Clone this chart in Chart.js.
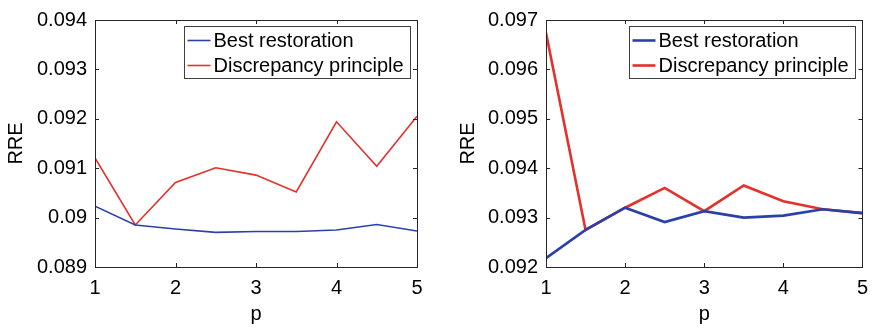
<!DOCTYPE html>
<html>
<head>
<meta charset="utf-8">
<script src="https://cdn.jsdelivr.net/npm/chart.js@4"></script>
<style>
  body { margin: 0; background: #fff; }
  .wrap { position: absolute; top: 0; height: 330px; }
</style>
</head>
<body>
<div class="wrap" style="left:0;width:438px"><canvas id="left" width="438" height="330"></canvas></div>
<div class="wrap" style="left:438px;width:439px"><canvas id="right" width="439" height="330"></canvas></div>
<script>
// x values (p)
const pValues = [1, 1.5, 2, 2.5, 3, 3.5, 4, 4.5, 5];
const seriesNames = ['Best restoration', 'Discrepancy principle'];

// left panel
const leftBest = [0.09023, 0.08985, 0.08977, 0.08970, 0.08972, 0.08972, 0.08975, 0.08986, 0.08973];
const leftDiscrepancy = [0.09121, 0.08985, 0.09071, 0.09101, 0.09086, 0.09052, 0.09194, 0.09104, 0.09205];
const leftTicks = [0.089, 0.090, 0.091, 0.092, 0.093, 0.094];

// right panel
const rightBest = [0.09218, 0.09275, 0.09320, 0.09291, 0.09313, 0.09300, 0.09304, 0.09317, 0.09309];
const rightDiscrepancy = [0.09674, 0.09275, 0.09320, 0.09360, 0.09313, 0.09365, 0.09333, 0.09317, 0.09309];
const rightTicks = [0.092, 0.093, 0.094, 0.095, 0.096, 0.097];

const BLUE = '#2c40ab';
const RED = '#e4312b';
const FONT = 'Liberation Sans, Arial, Helvetica, sans-serif';
const FS = 20;

// MATLAB-like box with inward ticks and an inset legend
const matlabBox = {
    id: 'matlabBox',
    afterDatasetsDraw(chart) {
        const ctx = chart.ctx;
        const a = chart.chartArea;
        const xs = chart.scales.x, ys = chart.scales.y;
        ctx.save();
        ctx.strokeStyle = '#262626';
        ctx.lineWidth = 1;
        ctx.strokeRect(Math.round(a.left) + 0.5, Math.round(a.top) + 0.5,
            Math.round(a.right - a.left), Math.round(a.bottom - a.top));
        const tl = 4;
        ctx.beginPath();
        xs.ticks.forEach(t => {
            const px = Math.round(xs.getPixelForValue(t.value)) + 0.5;
            ctx.moveTo(px, a.bottom); ctx.lineTo(px, a.bottom - tl);
            ctx.moveTo(px, a.top); ctx.lineTo(px, a.top + tl);
        });
        ys.ticks.forEach(t => {
            const py = Math.round(ys.getPixelForValue(t.value)) + 0.5;
            ctx.moveTo(a.left, py); ctx.lineTo(a.left + tl, py);
            ctx.moveTo(a.right, py); ctx.lineTo(a.right - tl, py);
        });
        ctx.stroke();

        // legend
        ctx.font = FS + 'px ' + FONT;
        const sets = chart.data.datasets;
        const textW = Math.max(...sets.map(d => ctx.measureText(d.label).width));
        const boxW = Math.round(30 + textW + 6);
        const boxH = 52;
        const bx = Math.round(a.right - 7 - boxW) + 0.5;
        const by = Math.round(a.top + 6) + 0.5;
        ctx.fillStyle = '#fff';
        ctx.fillRect(bx, by, boxW, boxH);
        ctx.strokeStyle = '#404040';
        ctx.lineWidth = 1;
        ctx.strokeRect(bx, by, boxW, boxH);
        sets.forEach((d, i) => {
            const cy = by + 14 + i * 25;
            ctx.strokeStyle = d.borderColor;
            ctx.lineWidth = d.borderWidth;
            ctx.beginPath();
            ctx.moveTo(bx + 3, cy); ctx.lineTo(bx + 26, cy);
            ctx.stroke();
            ctx.fillStyle = '#000';
            ctx.textBaseline = 'middle';
            ctx.textAlign = 'left';
            ctx.fillText(d.label, bx + 29, cy + 1);
        });
        ctx.restore();
    }
};

function fmt(v) {
    return String(Number(v.toFixed(3)));
}

function makeChart(id, best, disc, ticks, lw, yWidth, titlePad, rightPad) {
    const toPts = arr => arr.map((v, i) => ({ x: pValues[i], y: v }));
    new Chart(document.getElementById(id), {
        type: 'line',
        data: {
            datasets: [
                { label: seriesNames[0], data: toPts(best), borderColor: BLUE, borderWidth: lw, pointRadius: 0, tension: 0 },
                { label: seriesNames[1], data: toPts(disc), borderColor: RED, borderWidth: lw, pointRadius: 0, tension: 0 }
            ]
        },
        options: {
            responsive: false,
            animation: false,
            devicePixelRatio: 1,
            layout: { padding: { top: 12, right: rightPad, left: 0, bottom: 0 } },
            plugins: { legend: { display: false }, tooltip: { enabled: false } },
            scales: {
                x: {
                    type: 'linear', min: 1, max: 5,
                    grid: { display: false, drawTicks: false },
                    border: { display: false },
                    ticks: { stepSize: 1, padding: 9, color: '#000', font: { family: FONT, size: FS } },
                    title: { display: true, text: 'p', color: '#000', font: { family: FONT, size: FS }, padding: { top: 0, bottom: 4 } },
                    afterFit: s => { s.height = 63; }
                },
                y: {
                    type: 'linear', min: ticks[0], max: ticks[ticks.length - 1],
                    afterBuildTicks: s => { s.ticks = ticks.map(v => ({ value: v })); },
                    grid: { display: false, drawTicks: false },
                    border: { display: false },
                    ticks: { padding: 8, color: '#000', font: { family: FONT, size: FS }, callback: v => fmt(v) },
                    title: { display: true, text: 'RRE', color: '#000', font: { family: FONT, size: FS }, padding: { top: titlePad, bottom: 0 } },
                    afterFit: s => { s.width = yWidth; }
                }
            }
        },
        plugins: [matlabBox]
    });
}

makeChart('left', leftBest, leftDiscrepancy, leftTicks, 1.6, 95, 4, 21);
makeChart('right', rightBest, rightDiscrepancy, rightTicks, 2.6, 108, 18, 8);
</script>
</body>
</html>
